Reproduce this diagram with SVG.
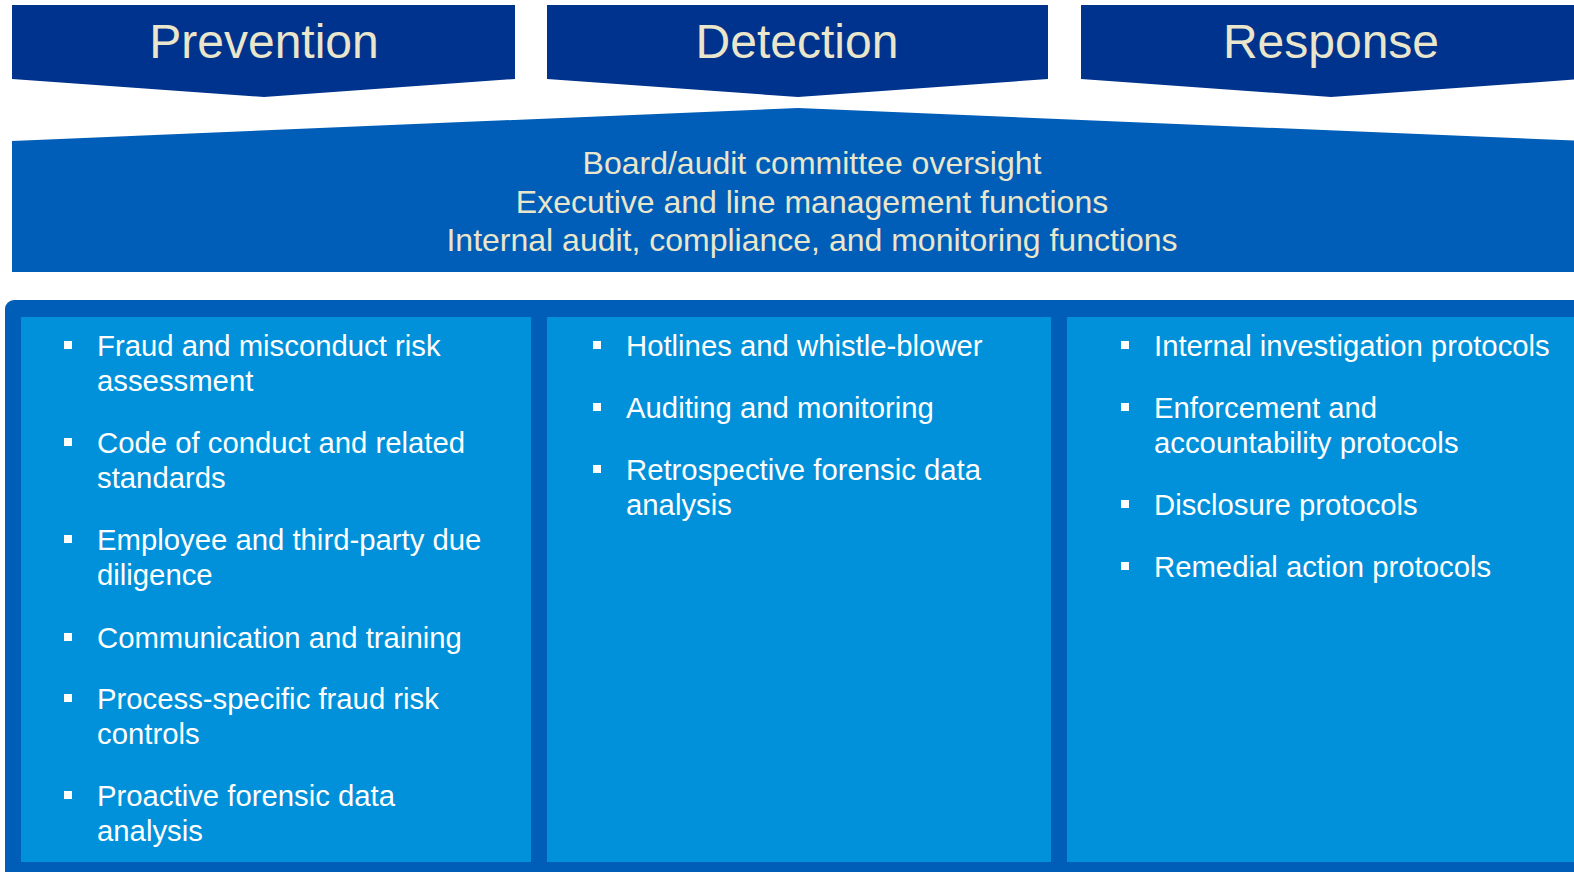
<svg xmlns="http://www.w3.org/2000/svg" width="1574" height="872" viewBox="0 0 1574 872">
  <defs>
    <style>
      .head { fill: #00338D; }
      .band { fill: #005EB8; }
      .inner { fill: #0091DA; }
      .htxt { font-family: "Liberation Sans", Arial, sans-serif; font-size: 48px; fill: #EAE6CB; text-anchor: middle; }
      .btxt { font-family: "Liberation Sans", Arial, sans-serif; font-size: 32px; fill: #EAE6CB; text-anchor: middle; }
      .item { font-family: "Liberation Sans", Arial, sans-serif; font-size: 29.3px; fill: #FFFFFF; }
      .dot { fill: #FFFFFF; }
    </style>
  </defs>

  <rect width="1574" height="872" fill="#FFFFFF"/>

  <!-- Phase headers -->
  <g id="prevention">
    <polygon class="head" points="12,5 515,5 515,79 264,97 12,79"/>
    <text class="htxt" x="264" y="58">Prevention</text>
  </g>
  <g id="detection">
    <polygon class="head" points="547,5 1048,5 1048,79 798,97 547,79"/>
    <text class="htxt" x="797" y="58">Detection</text>
  </g>
  <g id="response">
    <polygon class="head" points="1081,5 1582,5 1582,79 1331,97 1081,79"/>
    <text class="htxt" x="1331" y="58">Response</text>
  </g>

  <!-- Governance band -->
  <g id="governance">
    <polygon class="band" points="12,141 798,108 1584,141 1584,272 12,272"/>
    <text class="btxt" x="812" y="174">Board/audit committee oversight</text>
    <text class="btxt" x="812" y="213">Executive and line management functions</text>
    <text class="btxt" x="812" y="251">Internal audit, compliance, and monitoring functions</text>
  </g>

  <!-- Activities panel -->
  <g id="panel">
    <rect class="band" x="5" y="300" width="1600" height="600" rx="9"/>
  </g>

  <g id="prevention-items">
    <rect class="inner" x="21" y="317" width="510" height="545"/>
    <rect class="dot" x="64" y="341" width="8" height="8"/>
    <text class="item" x="97" y="356">Fraud and misconduct risk</text>
    <text class="item" x="97" y="391">assessment</text>
    <rect class="dot" x="64" y="438" width="8" height="8"/>
    <text class="item" x="97" y="453">Code of conduct and related</text>
    <text class="item" x="97" y="488">standards</text>
    <rect class="dot" x="64" y="535" width="8" height="8"/>
    <text class="item" x="97" y="550">Employee and third-party due</text>
    <text class="item" x="97" y="585">diligence</text>
    <rect class="dot" x="64" y="633" width="8" height="8"/>
    <text class="item" x="97" y="648">Communication and training</text>
    <rect class="dot" x="64" y="694" width="8" height="8"/>
    <text class="item" x="97" y="709">Process-specific fraud risk</text>
    <text class="item" x="97" y="744">controls</text>
    <rect class="dot" x="64" y="791" width="8" height="8"/>
    <text class="item" x="97" y="806">Proactive forensic data</text>
    <text class="item" x="97" y="841">analysis</text>
  </g>

  <g id="detection-items">
    <rect class="inner" x="547" y="317" width="504" height="545"/>
    <rect class="dot" x="593" y="341" width="8" height="8"/>
    <text class="item" x="626" y="356">Hotlines and whistle-blower</text>
    <rect class="dot" x="593" y="403" width="8" height="8"/>
    <text class="item" x="626" y="418">Auditing and monitoring</text>
    <rect class="dot" x="593" y="465" width="8" height="8"/>
    <text class="item" x="626" y="480">Retrospective forensic data</text>
    <text class="item" x="626" y="515">analysis</text>
  </g>

  <g id="response-items">
    <rect class="inner" x="1067" y="317" width="520" height="545"/>
    <rect class="dot" x="1121" y="341" width="8" height="8"/>
    <text class="item" x="1154" y="356">Internal investigation protocols</text>
    <rect class="dot" x="1121" y="403" width="8" height="8"/>
    <text class="item" x="1154" y="418">Enforcement and</text>
    <text class="item" x="1154" y="453">accountability protocols</text>
    <rect class="dot" x="1121" y="500" width="8" height="8"/>
    <text class="item" x="1154" y="515">Disclosure protocols</text>
    <rect class="dot" x="1121" y="562" width="8" height="8"/>
    <text class="item" x="1154" y="577">Remedial action protocols</text>
  </g>

  <!-- No connectors in this layout -->
  <g id="connectors"/>
</svg>
